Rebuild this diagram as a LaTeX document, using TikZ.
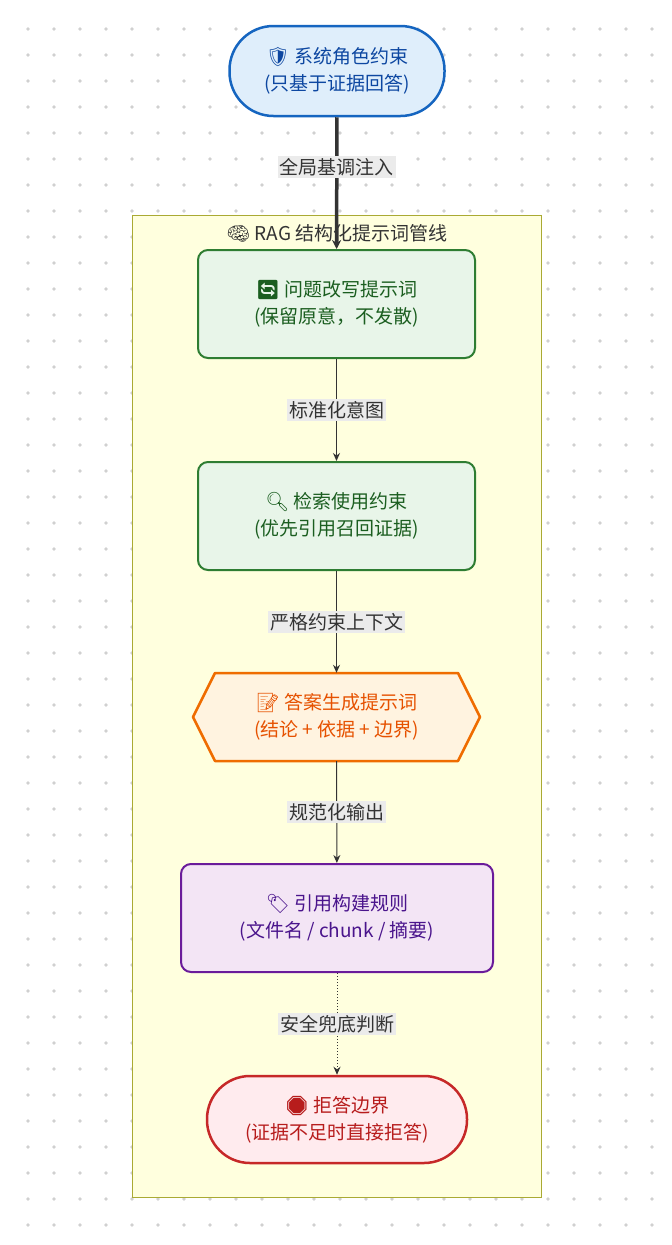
\documentclass[tikz,border=0pt]{standalone}
\usepackage{fontspec}
\setmainfont{Noto Sans CJK SC}
\newfontfamily\emo{Noto Emoji}
\usetikzlibrary{arrows.meta}
\definecolor{gridc}{HTML}{D0D0D0}
\tikzset{
  x=1pt,y=-1pt,
  txt/.style={font=\fontsize{19}{27}\selectfont,align=center},
  lab/.style={font=\fontsize{19}{22}\selectfont,fill=black!8,inner sep=2pt,text=black!80},
  box/.style={txt,draw,line width=2pt,rounded corners=10pt,minimum height=108pt},
  conn/.style={draw=black!80,line width=1pt,-{Stealth[length=8pt,width=7pt]}},
}
\begin{document}
\begin{tikzpicture}
\useasboundingbox (0,0) rectangle (672,1245);
\fill[white] (0,0) rectangle (672,1245);
\foreach \i in {0,...,25}{\foreach \j in {0,...,47}{\fill[gridc] (28+26*\i,29+26*\j) circle (1.8pt);}}
% cluster
\draw[fill={rgb,255:red,255;green,255;blue,222},draw={rgb,255:red,170;green,170;blue,51},line width=0.8pt] (132,215) rectangle (541,1197);
\node[font=\fontsize{19}{22}\selectfont,text=black!80] (ct) at (337,233) {{\emo 🧠} RAG 结构化提示词管线};
% top
\node[txt,draw={rgb,255:red,21;green,101;blue,192},fill={rgb,255:red,223;green,238;blue,251},line width=2.5pt,rounded corners=44pt,minimum width=215pt,minimum height=90pt,text={rgb,255:red,13;green,71;blue,161}] (sys) at (337,71) {{\emo 🛡} 系统角色约束\\(只基于证据回答)};
% node1
\node[box,draw={rgb,255:red,46;green,125;blue,50},fill={rgb,255:red,232;green,245;blue,233},minimum width=277pt,text={rgb,255:red,27;green,94;blue,32}] (q) at (336.5,304) {{\emo 🔄} 问题改写提示词\\(保留原意，不发散)};
\node[box,draw={rgb,255:red,46;green,125;blue,50},fill={rgb,255:red,232;green,245;blue,233},minimum width=277pt,text={rgb,255:red,27;green,94;blue,32}] (r) at (336.5,516) {{\emo 🔍} 检索使用约束\\(优先引用召回证据)};
% hexagon
\draw[line width=2.5pt,draw={rgb,255:red,239;green,108;blue,0},fill={rgb,255:red,255;green,243;blue,224},line join=round] (215,673) -- (458,673) -- (480,717) -- (458,761) -- (215,761) -- (193,717) -- cycle;
\node[txt,minimum height=88pt,minimum width=260pt,text={rgb,255:red,230;green,81;blue,0}] (a) at (336.5,717) {{\emo 📝} 答案生成提示词\\(结论 + 依据 + 边界)};
\node[box,draw={rgb,255:red,106;green,27;blue,154},fill={rgb,255:red,243;green,229;blue,245},minimum width=312pt,text={rgb,255:red,74;green,20;blue,140}] (c) at (337,918) {{\emo 🏷} 引用构建规则\\(文件名 / chunk / 摘要)};
\node[txt,draw={rgb,255:red,198;green,40;blue,40},fill={rgb,255:red,255;green,235;blue,238},line width=2.5pt,rounded corners=43pt,minimum width=260pt,minimum height=87pt,text={rgb,255:red,183;green,28;blue,28}] (s) at (337,1119.5) {{\emo 🛑} 拒答边界\\(证据不足时直接拒答)};
% edges
\draw[draw=black!80,line width=3.5pt,-{Stealth[length=9pt,width=9pt]}] (sys) -- node[lab,pos=0.38]{全局基调注入} (q);
\draw[conn] (q) -- node[lab]{标准化意图} (r);
\draw[conn] (r) -- node[lab]{严格约束上下文} (a);
\draw[conn] (a) -- node[lab]{规范化输出} (c);
\draw[conn,dotted] (c) -- node[lab]{安全兜底判断} (s);
\end{tikzpicture}
\end{document}
